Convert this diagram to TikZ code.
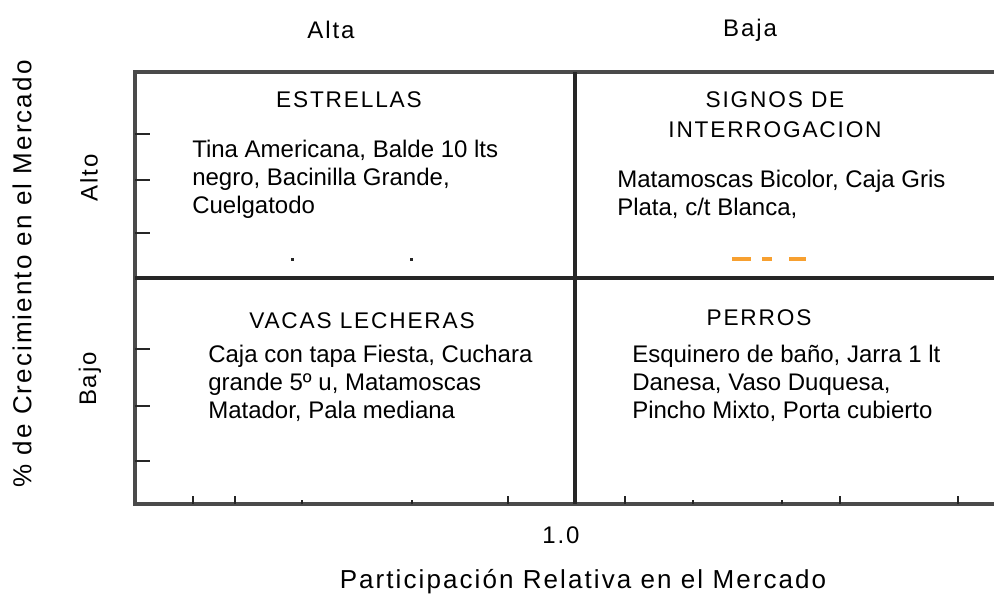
\documentclass[tikz,border=0pt]{standalone}
\usepackage{fontspec}
\setmainfont{Liberation Sans}
\newfontfamily\lblfont[LetterSpace=8]{Liberation Sans}
\usepackage{tikz}
\usetikzlibrary{positioning}

\definecolor{framegray}{HTML}{4A4A4A}
\definecolor{midgray}{HTML}{262626}
\definecolor{dashorange}{HTML}{F7A030}

\tikzset{
  frame/.style={draw=framegray, line width=3pt},
  midline/.style={draw=midgray, line width=3pt},
  tickmark/.style={draw=midgray, line width=1.6pt},
  head/.style={inner sep=0pt, anchor=base, font=\lblfont\fontsize{17}{22}\selectfont},
  body/.style={inner sep=0pt, anchor=base west, align=left,
    font=\fontsize{18}{21}\selectfont},
  axislbl/.style={inner sep=0pt, font=\lblfont\fontsize{18}{22}\selectfont},
  longlbl/.style={inner sep=0pt, font=\lblfont\fontsize{19.5}{22}\selectfont}
}

\begin{document}
\begin{tikzpicture}[x=0.75pt, y=-0.75pt]
        \useasboundingbox (0,0) rectangle (994,601);

        \coordinate (tl) at (135, 72);
        \coordinate (tr) at (994, 72);
        \coordinate (bl) at (135, 504);
        \coordinate (br) at (994, 504);
        \coordinate (mt) at (575, 72);
        \coordinate (mb) at (575, 504);
        \coordinate (ml) at (135, 278);
        \coordinate (mr) at (994, 278);

        \draw[frame] (tr) -- (tl) -- (bl) -- (br);
        \draw[midline] (mt) -- (mb);
        \draw[midline] (ml) -- (mr);

        \foreach \y in {134, 180, 233, 349, 406, 461}
          \draw[tickmark] (135, \y) -- (150, \y);
        \foreach \x in {193, 235, 508, 625, 840, 958}
          \draw[tickmark] (\x, 504) -- (\x, 496);
        \foreach \x in {302, 412, 693, 782}
          \draw[tickmark] (\x, 504) -- (\x, 500);

        \fill[midgray] (290.5, 257.5) rectangle (293.5, 260.5);
        \fill[midgray] (409.5, 257.5) rectangle (412.5, 260.5);
        \foreach \a/\b in {732/751, 762/772, 789/806}
          \draw[dashorange, line width=2.4pt] (\a, 259) -- (\b, 259);

        \node[head] (estrellas) at (349, 107) {ESTRELLAS};
        \node[head] (signos) at (775, 107) {SIGNOS DE};
        \node[head] (interrog) at (775, 137) {INTERROGACION};
        \node[head] (vacas) at (362, 328) {VACAS LECHERAS};
        \node[head] (perros) at (759, 325) {PERROS};

        \node[body] (estrellasTxt) at (192, 213)
          {Tina Americana, Balde 10 lts\\negro, Bacinilla Grande,\\Cuelgatodo};
        \node[body] (signosTxt) at (617, 215)
          {Matamoscas Bicolor, Caja Gris\\Plata, c/t Blanca,};
        \node[body] (vacasTxt) at (208, 418)
          {Caja con tapa Fiesta, Cuchara\\grande 5º u, Matamoscas\\Matador, Pala mediana};
        \node[body] (perrosTxt) at (632, 418)
          {Esquinero de baño, Jarra 1 lt\\Danesa, Vaso Duquesa,\\Pincho Mixto, Porta cubierto};

        \node[axislbl] (alta) at (331, 30) {Alta};
        \node[axislbl] (baja) at (750, 30) {Baja};
        \node[axislbl, rotate=90] (alto) at (89, 178) {Alto};
        \node[axislbl, rotate=90] (bajo) at (90, 379) {Bajo};
        \node[longlbl, rotate=90] (crec) at (22, 274) {\% de Crecimiento en el Mercado};
        \node[axislbl] (uno) at (561, 535) {1.0};
        \node[longlbl] (partic) at (583, 582) {Participación Relativa en el Mercado};
      \end{tikzpicture}
\end{document}
